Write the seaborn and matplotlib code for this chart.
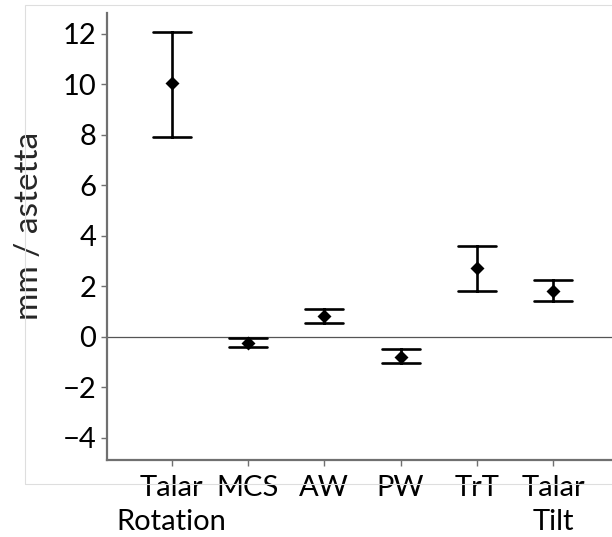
import matplotlib
matplotlib.use("Agg")
import matplotlib.pyplot as plt
from matplotlib.patches import Rectangle
import numpy as np
import pandas as pd
import seaborn as sns

# Mean difference per measurement with its lower / upper interval limits
categories = ["Talar\nRotation", "MCS", "AW", "PW", "TrT", "Talar\nTilt"]
means = [10.04, -0.24, 0.83, -0.79, 2.73, 1.83]
lower = [7.92, -0.42, 0.53, -1.05, 1.83, 1.40]
upper = [12.08, -0.06, 1.08, -0.49, 3.60, 2.26]
yticks = [-4, -2, 0, 2, 4, 6, 8, 10, 12]

# Long-form table: median of (lower, mean, upper) is the mean,
# and the 0-100 percentile interval spans lower..upper.
rows = []
for cat, lo, m, hi in zip(categories, lower, means, upper):
    for v in (lo, m, hi):
        rows.append({"measure": cat, "value": v})
df = pd.DataFrame(rows)

sns.set_theme(style="ticks")
plt.rcParams["font.family"] = ["Lato", "DejaVu Sans"]

fig = plt.figure(figsize=(6.12, 5.37), dpi=100)
ax = fig.add_axes([0.1753, 0.1434, 0.8247, 0.833])

# faint outer frame of the panel
fig.patches.append(Rectangle((25 / 612, (537 - 484) / 537), 1.2, (484 - 5) / 537,
                             transform=fig.transFigure, fill=False,
                             edgecolor="#dedede", linewidth=0.8, zorder=0))

ax.axhline(0, color="#555555", linewidth=0.9, zorder=1)

sns.pointplot(data=df, x="measure", y="value", order=categories,
              estimator="median", errorbar=("pi", 100),
              markers="D", markersize=5.5, linestyle="none",
              color="black", capsize=0.5,
              err_kws={"linewidth": 1.9}, ax=ax, zorder=3)

ax.set_xlim(-0.844, 5.77)
ax.set_ylim(-4.88, 12.83)
ax.set_yticks(yticks)
ax.set_yticklabels([f"{t}".replace("-", "\u2212") for t in yticks])

# first line of each category name as the tick label, second line below it
ax.set_xticks(range(len(categories)))
ax.set_xticklabels([c.split("\n")[0] for c in categories])
for i, c in enumerate(categories):
    parts = c.split("\n")
    if len(parts) > 1:
        ax.annotate(parts[1], xy=(i, 0), xycoords=("data", "axes fraction"),
                    xytext=(0, -50.5), textcoords="offset points",
                    ha="center", va="baseline", fontsize=21, color="black",
                    annotation_clip=False)

ax.set_xlabel("")
ax.set_ylabel("mm / astetta", fontsize=24)
ax.yaxis.set_label_coords(-0.126, 0.523)

sns.despine(ax=ax)
for side in ("left", "bottom"):
    ax.spines[side].set_color("#707070")
    ax.spines[side].set_linewidth(1.6)

ax.tick_params(axis="both", labelsize=21, colors="#707070", labelcolor="black",
               length=4, width=1.0, pad=4)
ax.tick_params(axis="x", pad=6.5)

fig.savefig("out.png", dpi=100)
